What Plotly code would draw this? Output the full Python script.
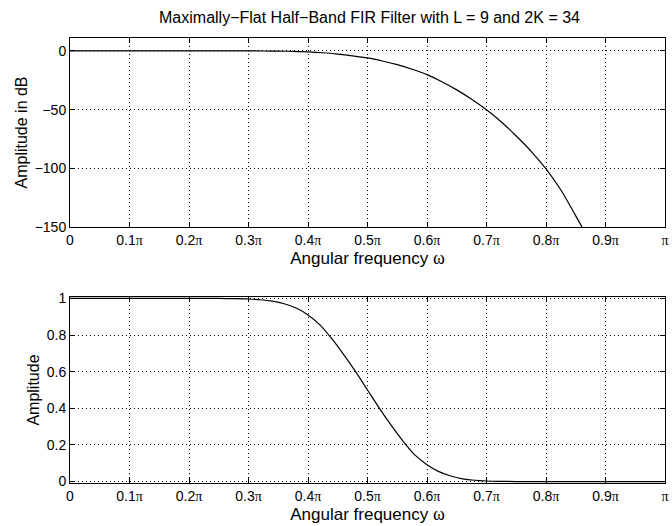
import plotly.graph_objects as go
from plotly.subplots import make_subplots

# Normalised angular frequency (multiples of pi) and read-off values
freq_db = [0.00, 0.10, 0.20, 0.25, 0.30, 0.325, 0.35, 0.375, 0.40, 0.425, 0.45,
           0.475, 0.50, 0.525, 0.55, 0.575, 0.60, 0.625, 0.65, 0.675, 0.70,
           0.725, 0.75, 0.775, 0.80, 0.825, 0.85, 0.875, 0.90]
amp_db = [0.0, 0.0, 0.0, -0.005, -0.03, -0.07, -0.17, -0.4, -0.8, -1.55, -2.7,
          -4.2, -6.0, -8.6, -11.7, -15.6, -20.2, -26.2, -33.2, -41.2, -50.2,
          -60.5, -72.5, -85.5, -100.5, -118.5, -140.5, -163.5, -188.0]

freq_lin = [0.00, 0.10, 0.20, 0.25, 0.28, 0.30, 0.32, 0.34, 0.36, 0.38, 0.40,
            0.42, 0.44, 0.46, 0.48, 0.50, 0.52, 0.54, 0.56, 0.58, 0.60, 0.62,
            0.64, 0.66, 0.68, 0.70, 0.72, 0.75, 0.80, 0.90, 1.00]
amp_lin = [1.000, 1.000, 1.000, 1.000, 0.999, 0.997, 0.993, 0.985, 0.971, 0.948,
           0.910, 0.856, 0.780, 0.693, 0.600, 0.500, 0.400, 0.307, 0.220, 0.144,
           0.092, 0.054, 0.030, 0.015, 0.007, 0.003, 0.001, 0.000, 0.000, 0.000,
           0.000]

x_tickvals = [0, 0.1, 0.2, 0.3, 0.4, 0.5, 0.6, 0.7, 0.8, 0.9, 1.0]
PI = '<span style="font-family:Liberation Serif">π</span>'
x_ticktext = ["0"] + [f"0.{i}{PI}" for i in range(1, 10)] + [PI]
db_tickvals = [0, -50, -100, -150]
db_ticktext = ["0", "−50", "−100", "−150"]
lin_tickvals = [0, 0.2, 0.4, 0.6, 0.8, 1]
lin_ticktext = ["0", "0.2", "0.4", "0.6", "0.8", "1"]

title = "Maximally−Flat Half−Band FIR Filter with L = 9 and 2K = 34"
xlabel = "Angular frequency " + '<span style="font-family:Liberation Serif;font-size:18px">ω</span>'

W, H = 672, 526
ml, mr, mt, mb = 70, 3, 38, 43
ph = H - mt - mb
top_dom = [(H - mb - 227) / ph, 1.0]
bot_dom = [0.0, (H - mb - 297) / ph]

fig = make_subplots(rows=2, cols=1)
fig.add_trace(go.Scatter(x=freq_db, y=amp_db, mode="lines",
                         line=dict(color="black", width=1.2, shape="spline", smoothing=0.8),
                         showlegend=False), row=1, col=1)
fig.add_trace(go.Scatter(x=freq_lin, y=amp_lin, mode="lines",
                         line=dict(color="black", width=1.2, shape="spline", smoothing=0.6),
                         showlegend=False), row=2, col=1)

font = "Liberation Sans, Arial, sans-serif"
axis_common = dict(showline=True, linecolor="black", linewidth=1, mirror="ticks",
                   ticks="inside", ticklen=5, tickcolor="black", tickwidth=1,
                   showgrid=True, gridcolor="black", gridwidth=1, griddash="1px,3px",
                   zeroline=False, ticklabeloverflow="allow",
                   tickfont=dict(size=14, color="black", family=font))

lab_font = dict(size=17, color="black", family=font)
fig.update_xaxes(**axis_common, range=[0, 1], tickmode="array",
                 tickvals=x_tickvals, ticktext=x_ticktext)
fig.update_xaxes(domain=[0, 1], row=1, col=1,
                 title=dict(text=xlabel, font=lab_font, standoff=5))
fig.update_xaxes(domain=[0, 1], row=2, col=1,
                 title=dict(text=xlabel, font=lab_font, standoff=5))
fig.update_yaxes(**axis_common)
fig.update_yaxes(domain=top_dom, range=[-150, 11], tickmode="array",
                 tickvals=db_tickvals, ticktext=db_ticktext, row=1, col=1,
                 title=dict(text="Amplitude in dB", font=dict(size=16, color="black", family=font), standoff=3))
fig.update_yaxes(domain=bot_dom, range=[-0.008, 1.008], tickmode="array",
                 tickvals=lin_tickvals, ticktext=lin_ticktext, row=2, col=1,
                 title=dict(text="Amplitude", font=dict(size=16, color="black", family=font), standoff=3))

fig.update_layout(
    width=W, height=H,
    margin=dict(l=ml, r=mr, t=mt, b=mb),
    paper_bgcolor="white", plot_bgcolor="white",
    font=dict(family=font, color="black"),
    title=dict(text=title, x=(ml + (W - ml - mr) / 2) / W, xanchor="center",
               y=1 - 17 / H, yanchor="middle",
               font=dict(size=16, color="black", family=font)),
)

fig.write_html("out.html")
